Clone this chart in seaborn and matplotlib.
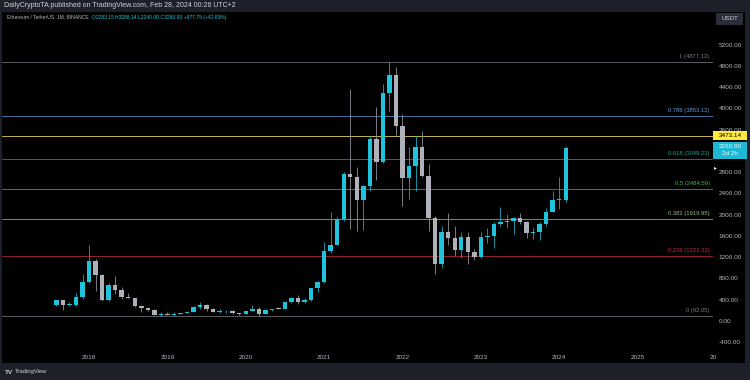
import matplotlib
matplotlib.use("Agg")
import matplotlib.pyplot as plt
from matplotlib.patches import Rectangle
import seaborn as sns
import numpy as np
import pandas as pd

# monthly ETH/USDT candles, Aug 2017 .. Feb 2024
months = pd.period_range("2017-08", "2024-02", freq="M")
opens = [301.13, 383, 302, 305, 447,
         736, 1118, 855, 396, 670, 577, 453, 433, 282, 232, 197, 113,
         131, 106, 135, 141, 162, 268, 290, 218, 172, 180, 182, 151,
         129, 179, 218, 133, 206, 231, 225, 346, 435, 359, 386, 616,
         737, 1314, 1421, 1918, 2772, 2707, 2275, 2536, 3433, 3000, 4288, 4631,
         3676, 2688, 2920, 3282, 2727, 1942, 1067, 1679, 1554, 1327, 1572, 1295,
         1196, 1585, 1605, 1822, 1869, 1874, 1934, 1857, 1645, 1671, 1814, 2052,
         2281, 2283.15]
highs = [399, 395, 350, 525, 881,
         1424, 1162, 880, 709, 838, 627, 515, 438, 303, 234, 225, 160,
         160, 165, 150, 187, 280, 361, 320, 239, 223, 200, 195, 153,
         185, 288, 253, 228, 227, 255, 349, 445, 488, 420, 623, 755,
         1476, 2042, 1947, 2798, 4372, 2891, 2551, 3474, 4027, 4460, 4868, 4778,
         3900, 3282, 3480, 3581, 2954, 1972, 1785, 2030, 1788, 1663, 1679, 1352,
         1680, 1743, 1857, 2141, 2012, 1950, 2029, 1875, 1753, 1865, 2133, 2445,
         2717, 3288.14]
lows = [278, 197, 280, 282, 403,
        716, 566, 366, 364, 500, 416, 425, 251, 167, 186, 101, 82,
        100, 101, 125, 140, 158, 230, 190, 163, 153, 152, 137, 117,
        126, 175, 86, 128, 176, 214, 222, 335, 308, 335, 374, 535,
        714, 1270, 1418, 1880, 1728, 1700, 1718, 2450, 2651, 2969, 3956, 3503,
        2159, 2300, 2450, 2700, 1700, 880, 1000, 1422, 1220, 1190, 1073, 1150,
        1190, 1461, 1368, 1785, 1740, 1626, 1826, 1550, 1531, 1521, 1777, 2047,
        2100, 2240.00]
closes = [383, 302, 305, 447, 736,
          1118, 855, 396, 670, 577, 453, 433, 282, 232, 197, 113, 131,
          106, 135, 141, 162, 268, 290, 218, 172, 180, 182, 151, 129,
          179, 218, 133, 206, 231, 225, 346, 435, 359, 386, 616, 737,
          1314, 1421, 1918, 2772, 2707, 2275, 2536, 3433, 3000, 4288, 4631, 3676,
          2688, 2920, 3282, 2727, 1942, 1067, 1679, 1554, 1327, 1572, 1295, 1196,
          1585, 1605, 1822, 1869, 1874, 1934, 1857, 1645, 1671, 1814, 2052, 2281,
          2283, 3260.90]

fib_ratios = ["1", "0.786", "0.618", "0.5", "0.382", "0.236", "0"]
fib_values = [4877.12, 3853.12, 3049.23, 2484.59, 1919.95, 1221.33, 92.05]
fib_colors = ["#787b86", "#5b9bd5", "#1f9f8a", "#4caf50", "#8fbf7f", "#c2303a", "#787b86"]

alert_price = 3473.14
last_price = 3260.90
year_labels = ["2018", "2019", "2020", "2021", "2022", "2023", "2024", "2025"]
price_ticks = [-400, 0, 400, 800, 1200, 1600, 2000, 2400, 2800, 3600, 4000, 4400, 4800, 5200]

UP = "#1fc4dc"
DOWN = "#aeb1ba"
UP_WICK = "#1aa8bc"
DOWN_WICK = "#8d9099"
TXT = "#b2b5be"

sns.set_theme(style="dark")
plt.rcParams['font.family'] = ['Liberation Sans', 'DejaVu Sans']

W, H = 750, 380
fig = plt.figure(figsize=(7.5, 3.8), dpi=100, facecolor="#1e2029")


def box(x0, y0, x1, y1, color, z=5):
    fig.patches.append(Rectangle((x0 / W, 1 - y1 / H), (x1 - x0) / W, (y1 - y0) / H,
                                 transform=fig.transFigure, facecolor=color,
                                 edgecolor="none", zorder=z))


def ftext(x, y, s, **kw):
    return fig.text(x / W, 1 - y / H, s, va="center", zorder=6, **kw)


# black chart pane behind everything
box(2, 12, 745, 363, "black", z=-10)

ax = fig.add_axes([2 / W, (H - 346) / H, 711 / W, 334 / H])
ax.set_zorder(1)
ax.set_facecolor("black")
for s in ax.spines.values():
    s.set_visible(False)

df = pd.DataFrame({"open": opens, "high": highs, "low": lows, "close": closes})
df["i"] = np.arange(len(df))
df["up"] = df["close"] >= df["open"]
colors = np.where(df["up"], UP, DOWN)
wick_colors = np.where(df["up"], UP_WICK, DOWN_WICK)

ax.vlines(df["i"], df["low"], df["high"], colors=wick_colors, lw=0.6, zorder=3)
body = (df["close"] - df["open"]).abs().clip(lower=12)
ax.bar(df["i"], body, bottom=df[["open", "close"]].min(axis=1), width=0.68,
       color=colors, linewidth=0, zorder=4)

# fib levels
for r, v, c in zip(fib_ratios, fib_values, fib_colors):
    ax.axhline(v, color=c, lw=0.7, alpha=0.75, zorder=2)
    ax.text(100.0, v + 55, f"{r} ({v:.2f})", color=c, fontsize=4.2,
            ha="right", va="bottom", zorder=5)
ax.axhline(alert_price, color="#c9b54a", lw=0.7, zorder=2)

ax.set_xlim(-8.33, 100.55)
ax.set_ylim(-475, 5816)

ax.set_xticks([5 + 12 * k for k in range(len(year_labels))])
ax.set_xticklabels(year_labels)
ax.set_yticks(price_ticks)
ax.set_yticklabels([f"{p:.2f}" for p in price_ticks])
ax.yaxis.tick_right()
ax.tick_params(axis="both", length=0, labelsize=4.6, colors=TXT)
ax.tick_params(axis="y", pad=4)
ax.tick_params(axis="x", pad=6.5)
ax.grid(False)

# truncated next year label
ftext(713, 357.5, "20", color=TXT, fontsize=4.6, ha="center")

# header texts
ftext(4, 5.5, "DailyCryptoTA published on TradingView.com, Feb 28, 2024 00:26 UTC+2",
      color="#d1d4dc", fontsize=5.0)
sym = ftext(7, 17, "Ethereum / TetherUS, 1M, BINANCE", color=TXT, fontsize=3.6)
fig.canvas.draw()
x_end = sym.get_window_extent().x1
ftext(x_end + 3, 17, "O2283.15 H3288.14 L2240.00 C3260.90 +977.75 (+42.83%)",
      color=UP, fontsize=3.6)

# price axis widgets
box(716, 13, 743, 25, "#2a2e39")
ftext(729.5, 19, "USDT", color="#d1d4dc", fontsize=4.4, ha="center")
box(713, 131, 747, 140, "#ffeb3b")
ftext(730, 135.5, "3473.14", color="black", fontsize=4.6, ha="center")
box(713, 141.5, 747, 158.5, "#1cb8d4")
ftext(730, 146, f"{last_price:.2f}", color="#eaf8ff", fontsize=4.6, ha="center")
ftext(730, 154, "2d 2h", color="#eaf8ff", fontsize=4.6, ha="center")
ftext(715, 167.5, "\u25b8", color="white", fontsize=4, ha="center", family="DejaVu Sans")

# footer
ftext(5, 372, "TV", color="#d1d4dc", fontsize=4.6, fontweight="bold")
ftext(15, 372, "TradingView", color="#d1d4dc", fontsize=4.2)

fig.savefig("out.png", dpi=100, facecolor=fig.get_facecolor())
